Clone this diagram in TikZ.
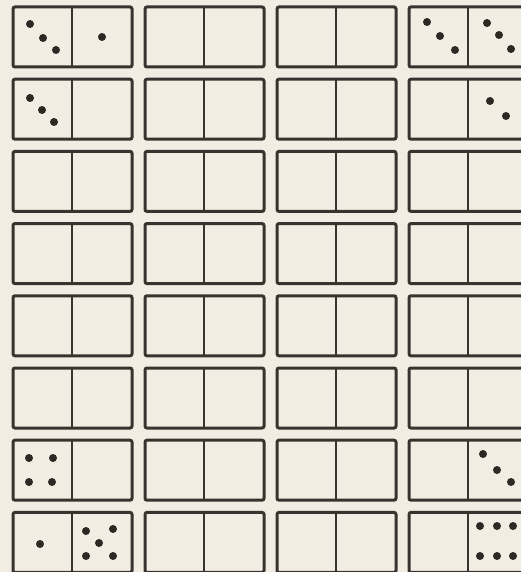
\documentclass[tikz,border=0pt]{standalone}
\definecolor{paper}{RGB}{242,236,226}
\definecolor{ink}{RGB}{58,50,46}
\tikzset{
    tile/.style={draw=ink, line width=3pt, rounded corners=2pt},
    midline/.style={draw=ink, line width=1.6pt},
    pip/.style={fill=ink!80!black}
}
\begin{document}
\begin{tikzpicture}[x=1pt, y=-1pt]
    % 背景
    \fill[paper] (0, 0) rectangle (521, 572);
    \clip (0, 0) rectangle (521, 572);
    
    % 骨牌
    \foreach \c in {0,...,3}
        \foreach \r in {0,...,7} {
            \draw[tile] ({13+132*\c}, {7+72.2*\r}) rectangle ++(119, 60);
            \draw[midline] ({72+132*\c}, {7+72.2*\r}) -- ++(0, 60);
        }
    
    % 点
    \foreach \x/\y in {30/24, 43/38, 56/50, 102/37,
                       30/98, 42/110, 54/122,
                       427/22, 440/36, 455/50, 487/23, 499/35, 511/49,
                       490/101, 506/116,
                       29/458, 53/458, 29/482, 52/482,
                       40/544, 86/531, 113/529, 99/543, 86/556, 113/556,
                       483/454, 497/470, 511/482,
                       480/526, 497/526, 513/526, 480/556, 497/556, 513/556}
        \fill[pip] (\x, \y) circle (4pt);
\end{tikzpicture}
\end{document}
